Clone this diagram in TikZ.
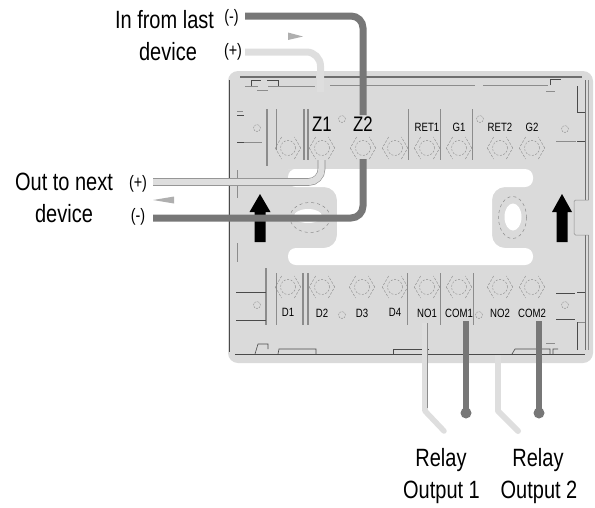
\documentclass[tikz,border=0pt]{standalone}
\usepackage{fontspec}
\setmainfont{Liberation Sans}[FakeStretch=0.80]
\usetikzlibrary{shapes.geometric}
\definecolor{platecol}{HTML}{DADADA}
\definecolor{lightcol}{HTML}{DEDEDE}
\definecolor{darkcol}{HTML}{777777}
\definecolor{edgecol}{HTML}{8C8C8C}
\definecolor{linecol}{HTML}{4A4A4A}
\tikzset{
	chevron/.style={draw=edgecol,dash pattern=on 2.5pt off 1.5pt,line width=0.45pt},
	terminal/.style={shape=regular polygon,regular polygon sides=6,minimum size=25pt,inner sep=0pt,
		path picture={\draw[edgecol,dash pattern=on 2pt off 1.5pt,line width=0.4pt] (path picture bounding box.center) circle[radius=7.5pt];},
		append after command={(\tikzlastnode.corner 2) edge[chevron] (\tikzlastnode.corner 3) (\tikzlastnode.corner 3) edge[chevron] (\tikzlastnode.corner 4)
			(\tikzlastnode.corner 5) edge[chevron] (\tikzlastnode.corner 6) (\tikzlastnode.corner 6) edge[chevron] (\tikzlastnode.corner 1)}},
	hole/.style={draw=edgecol,dash pattern=on 2pt off 1pt,line width=0.4pt,shape=circle,minimum size=7pt,inner sep=0pt},
	termtop/.style={font=\fontsize{12}{12}\selectfont,inner sep=0pt,label distance=5pt,text=black},
	termlow/.style={font=\fontsize{12}{12}\selectfont,inner sep=0pt,label distance=10.5pt,text=black},
	termbig/.style={font=\fontsize{21}{21}\selectfont,inner sep=0pt,label distance=5pt,text=black},
	mainlabel/.style={font=\fontsize{25}{25}\selectfont,inner sep=0pt},
	signlabel/.style={font=\fontsize{18}{18}\selectfont,inner sep=0pt},
	wiredark/.style={draw=darkcol,line width=7pt,rounded corners=12pt},
	wirelight/.style={draw=lightcol,line width=7pt,rounded corners=14pt},
	wireedge/.style={draw=edgecol,double=lightcol,double distance=6.4pt,line width=0.6pt,rounded corners=13pt},
	seplight/.style={draw=edgecol,line width=0.5pt},
	sepheavy/.style={draw=edgecol,line width=1.5pt},
	outline/.style={draw=linecol,line width=0.6pt},
	blockarrow/.style={fill=black},
	flowmark/.style={fill=edgecol!70}
}
\begin{document}
\begin{tikzpicture}[x=1pt,y=-1pt]
	\useasboundingbox (0,0) rectangle (595,507);
	
	% plate
	\fill[platecol,rounded corners=10pt] (228,71) rectangle (593,363);
	\fill[white,rounded corners=8pt] (296,169) -- (533,169) -- (533,187) -- (504,187) [rounded corners=13pt] -- (492,187) -- (492,248) [rounded corners=8pt] -- (533,248) -- (533,265) -- (288,265) -- (288,248) [rounded corners=13pt] -- (337,248) -- (337,187) [rounded corners=8pt] -- (288,187) -- (288,169) -- cycle;
	\fill[white] (308,216) ellipse[x radius=14,y radius=7];
	\fill[white] (513,217) ellipse[x radius=8.5,y radius=13.5];
	\draw[seplight,dashed] (310,217.5) ellipse[x radius=20,y radius=15];
	\draw[seplight,dashed] (512.5,217.5) ellipse[x radius=14,y radius=21];
	
	% edges of the plate
	\draw[draw=linecol!80,line width=1.5pt] (240,77) -- (316,77);
	\draw[draw=linecol!80,line width=1.5pt] (324,77) -- (582,77);
	\draw[outline] (251,86) -- (251,80) -- (261,80) (267,80) -- (278,80) -- (278,86);
	\draw[seplight] (245,86) -- (258,86) (268,86) -- (315,86);
	\draw[draw=edgecol,line width=1pt] (257,90) -- (268,90);
	\draw[seplight] (330,85) -- (475,85) (483,85) -- (548,85);
	\draw[outline] (550,85) -- (550,79) -- (561,79);
	\draw[draw=edgecol,line width=1pt] (546,91) -- (555,91) (546,343) -- (555,343);
	\draw[outline] (577,86) -- (577,112);
	\draw[outline] (577,112) -- (585,112) (577,141) -- (585,141);
	\draw[draw=linecol,line width=1pt] (229,80) -- (229,352);
	\draw[draw=linecol!80,line width=0.8pt] (585,80) -- (585,200) (585,235) -- (585,350);
	\draw[seplight,line width=0.7pt] (588.5,80) -- (588.5,200) (588.5,235) -- (588.5,350);
	\draw[seplight,rounded corners=1.5pt] (588.5,200) -- (574,200) -- (574,235) -- (588.5,235);
	\draw[outline,line width=0.8pt] (235,354.5) -- (585,354.5);
	\draw[outline] (255,354) -- (258,344) -- (268,344) -- (268,349);
	\draw[outline] (278,354) -- (279,349) -- (316,349) -- (316,354);
	\draw[outline] (393,354) -- (393,349) -- (429,349);
	\draw[outline] (512,354) -- (515,349) -- (550,349) -- (550,354) (553,354) -- (553,349) -- (558,349);
	\draw[outline] (577,322) -- (577,350);
	
	% separators
	\draw[sepheavy] (267,109) -- (267,166);
	\draw[seplight] (276,109) -- (276,150);
	\draw[sepheavy] (304,109) -- (304,160);
	\draw[sepheavy] (308,109) -- (308,160);
	\draw[seplight] (408,109) -- (408,160);
	\draw[sepheavy,line width=1pt] (440,109) -- (440,160);
	\draw[seplight] (472,109) -- (472,160);
	\draw[sepheavy] (266,268) -- (266,325);
	\draw[seplight] (276,273) -- (276,325);
	\draw[sepheavy] (303,273) -- (303,325);
	\draw[sepheavy] (308,273) -- (308,325);
	\draw[seplight] (407,273) -- (407,325);
	\draw[seplight] (440,273) -- (440,325);
	\draw[seplight] (473,273) -- (473,325);
	\draw[seplight] (237,142) -- (262,142);
	\draw[outline] (237,115) -- (244,115) (237,142) -- (244,142);
	\draw[seplight] (237,111) -- (243,111);
	\draw[seplight] (237,170) -- (237,198) (237,243) -- (237,262);
	\draw[seplight] (556,141) -- (576,141);
	\draw[outline] (236,292) -- (266,292) (236,320) -- (266,320);
	\draw[outline] (556,293) -- (575,293) (556,319) -- (575,319) (577,292) -- (585,292);
	\draw[seplight] (578,322) -- (585,322);
	
	% top terminals
	\node[terminal] (TA) at (288,148) {};
	\node[terminal, label={[termbig]above:Z1}] (TB) at (322,148) {};
	\node[terminal, label={[termbig]above:Z2}] (TC) at (363,148) {};
	\node[terminal] (TD) at (395,148) {};
	\node[terminal, label={[termtop]above:RET1}] (TE) at (427,148) {};
	\node[terminal, label={[termtop]above:G1}] (TF) at (459,148) {};
	\node[terminal, label={[termtop]above:RET2}] (TG) at (500,148) {};
	\node[terminal, label={[termtop]above:G2}] (TH) at (532,148) {};
	
	% lower terminals
	\node[terminal, label={[termlow]below:D1}] (LA) at (288,287) {};
	\node[terminal, label={[termlow]below:D2}] (LB) at (322,287) {};
	\node[terminal, label={[termlow]below:D3}] (LC) at (362,287) {};
	\node[terminal, label={[termlow]below:D4}] (LD) at (395,287) {};
	\node[terminal, label={[termlow]below:NO1}] (LE) at (427,287) {};
	\node[terminal, label={[termlow]below:COM1}] (LF) at (459,287) {};
	\node[terminal, label={[termlow]below:NO2}] (LG) at (500,287) {};
	\node[terminal, label={[termlow]below:COM2}] (LH) at (532,287) {};
	
	% screw holes
	\node[hole] (HA) at (257,128) {};
	\node[hole] (HB) at (565,129) {};
	\node[hole] (HC) at (257,305) {};
	\node[hole] (HD) at (565,305) {};
	\node[hole] (HE) at (342,119) {};
	\node[hole] (HF) at (480,119) {};
	\node[hole] (HG) at (342,315) {};
	\node[hole] (HH) at (479,315) {};
	
	% black arrows
	\fill[blockarrow] (260,194) -- (270.5,212) -- (265.5,212) -- (265.5,242) -- (254.5,242) -- (254.5,212) -- (249.5,212) -- cycle;
	\fill[blockarrow] (562,194) -- (572,212) -- (567.5,212) -- (567.5,242) -- (556.5,242) -- (556.5,212) -- (552,212) -- cycle;
	
	% wire ends
	\coordinate (DA) at (245,16);
	\coordinate (DB) at (363,16);
	\coordinate (DC) at (363,115);
	\coordinate (DD) at (363,159);
	\coordinate (DE) at (363,218);
	\coordinate (DF) at (153,218);
	\coordinate (PA) at (245,52);
	\coordinate (PB) at (320.5,52);
	\coordinate (PC) at (320.5,92);
	\coordinate (PD) at (321.5,160);
	\coordinate (PE) at (321.5,182);
	\coordinate (PF) at (153,182);
	\coordinate (RA) at (425,323);
	\coordinate (RB) at (425,411);
	\coordinate (RC) at (444,431);
	\coordinate (RD) at (466,321);
	\coordinate (RE) at (466,413);
	\coordinate (RF) at (498,355);
	\coordinate (RG) at (498,411);
	\coordinate (RH) at (518,431);
	\coordinate (RI) at (539,321);
	\coordinate (RJ) at (539,413);
	
	\draw[wirelight] (PA)--(PB)--(PC);
	\draw[wireedge] (PD)--(PE)--(PF);
	\draw[wiredark] (DA)--(DB)--(DC);
	\draw[wiredark] (DD)--(DE)--(DF);
	
	\draw[draw=lightcol,line width=5.5pt,line cap=round] (RB)--(RC);
	\draw[draw=lightcol,line width=5.5pt] (RA)--(RB);
	\draw[seplight] (427.5,323) -- (427.5,408);
	\draw[draw=lightcol,line width=6pt,line cap=round] (RG)--(RH);
	\draw[draw=lightcol,line width=6pt] (RF)--(RG);
	\draw[draw=darkcol,line width=6.5pt] (RD)--(RE);
	\draw[draw=darkcol,line width=6.5pt] (RI)--(RJ);
	\fill[darkcol] (RE) circle[radius=5.5];
	\fill[darkcol] (RJ) circle[radius=5.5];
	
	% direction marks
	\fill[flowmark] (288,32.5) -- (303,36.5) -- (288,40) -- cycle;
	\fill[flowmark] (174,196.5) -- (153,200) -- (174,203.5) -- cycle;
	
	% texts
	\node[mainlabel] (IA) at (164.5,20) {In from last};
	\node[mainlabel] (IB) at (168,52) {device};
	\node[mainlabel] (OA) at (64,182) {Out to next};
	\node[mainlabel] (OB) at (64,214) {device};
	\node[mainlabel] (RL) at (441,460) {Relay};
	\node[mainlabel] (RM) at (441.5,492) {Output 1};
	\node[mainlabel] (RN) at (538,460) {Relay};
	\node[mainlabel] (RO) at (539,492) {Output 2};
	\node[signlabel] (SA) at (231.5,18) {(-)};
	\node[signlabel] (SB) at (233,52) {(+)};
	\node[signlabel] (SC) at (138,184) {(+)};
	\node[signlabel] (SD) at (138,217) {(-)};
\end{tikzpicture}
\end{document}
